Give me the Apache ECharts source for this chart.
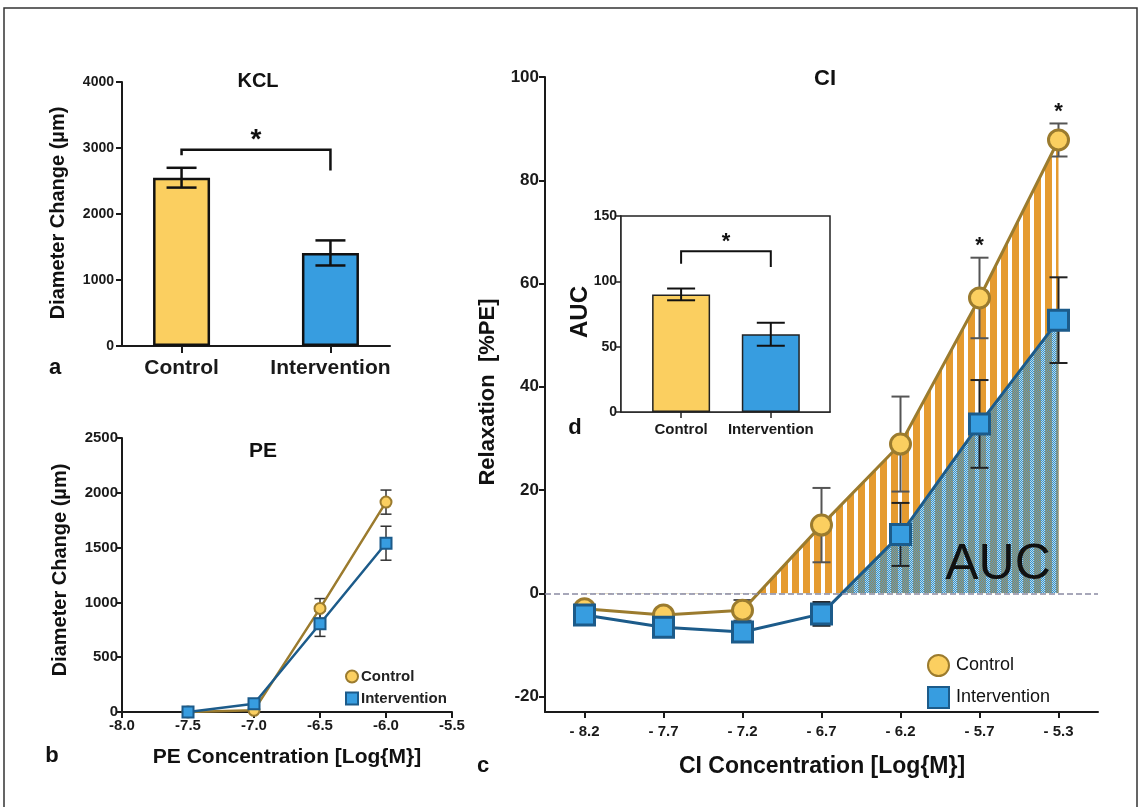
<!DOCTYPE html>
<html>
<head>
<meta charset="utf-8">
<script src="https://cdn.jsdelivr.net/npm/echarts@6/dist/echarts.min.js"></script>
<style>
html, body { margin: 0; padding: 0; background: #fff; }
#chart { width: 1143px; height: 807px; }
</style>
</head>
<body>
<div id="chart"></div>
<script>
// a: KCL
const kclGroups = ['Control', 'Intervention'];
const kclMean = [2550, 1410];
const kclErr = [150, 190];
const kclBracket = [2975, 2890, 2660]; // bar top, left foot, right foot

// b: PE
const peX = [-7.5, -7.0, -6.5, -6.0];
const peControl = [0, 15, 945, 1915];
const peControlErr = [0, 0, 90, 110];
const peInterv = [0, 75, 805, 1540];
const peIntervErr = [0, 0, 115, 155];

// c: CI
const ciCats = ['- 8.2', '- 7.7', '- 7.2', '- 6.7', '- 6.2', '- 5.7', '- 5.3'];
const ciControl = [-3.0, -4.2, -3.3, 13.2, 28.9, 57.2, 87.8];
const ciControlErr = [0, 0, 2, 7.2, 9.2, 7.8, 3.2];
const ciInterv = [-4.2, -6.6, -7.5, -4.0, 11.4, 32.8, 52.9];
const ciIntervErr = [0, 0, 0, 2.3, 6.1, 8.5, 8.3];
const ciStars = [5, 6];
const ciTicks = [-20, 0, 20, 40, 60, 80, 100];

// d: AUC inset
const aucMean = [90, 59.5];
const aucErr = [4.5, 8.8];
const aucBracket = [123, 113.5, 111];

const FONT = '"Liberation Sans", Arial, sans-serif';
const INK = '#1a1a1a';
const YELLOW = '#fbcf60';
const BLUE = '#379de0';
const GOLD = '#9b7b2e';
const NAVY = '#1c5b8a';

function makeStripes() {
  const c = document.createElement('canvas');
  c.width = 11; c.height = 4;
  const g = c.getContext('2d');
  g.fillStyle = '#ffffff'; g.fillRect(0, 0, 11, 4);
  g.fillStyle = '#e59b30'; g.fillRect(0, 0, 7, 4);
  return c;
}
function makeChecker() {
  const c = document.createElement('canvas');
  c.width = 11; c.height = 4;
  const g = c.getContext('2d');
  for (let x = 0; x < 11; x++) {
    for (let y = 0; y < 4; y++) {
      const odd = (x + y) % 2;
      if (x < 7) g.fillStyle = odd ? '#958755' : '#5a9ec6';
      else g.fillStyle = odd ? '#3f90c2' : '#b2dcf2';
      g.fillRect(x, y, 1, 1);
    }
  }
  return c;
}

function errRender(capW, color, width) {
  return function (params, api) {
    const e = api.value(2);
    if (!e) return null;
    const x = api.value(0), y = api.value(1);
    const t = api.coord([x, y + e]), b = api.coord([x, y - e]);
    const st = { stroke: color, lineWidth: width };
    return {
      type: 'group', children: [
        { type: 'line', shape: { x1: t[0], y1: t[1], x2: b[0], y2: b[1] }, style: st },
        { type: 'line', shape: { x1: t[0] - capW / 2, y1: t[1], x2: t[0] + capW / 2, y2: t[1] }, style: st },
        { type: 'line', shape: { x1: b[0] - capW / 2, y1: b[1], x2: b[0] + capW / 2, y2: b[1] }, style: st }
      ]
    };
  };
}

function bracketRender(lw, starSize, starGap) {
  return function (params, api) {
    const x1 = api.value(0), x2 = api.value(1), top = api.value(2);
    const a = api.coord([x1, api.value(3)]);
    const b = api.coord([x1, top]);
    const c = api.coord([x2, top]);
    const d = api.coord([x2, api.value(4)]);
    return {
      type: 'group', children: [
        { type: 'polyline', shape: { points: [a, b, c, d] }, style: { stroke: '#111', lineWidth: lw, fill: null } },
        { type: 'text', x: (b[0] + c[0]) / 2, y: b[1] - starGap,
          style: { text: '*', font: 'bold ' + starSize + 'px ' + FONT, fill: '#111', align: 'center', verticalAlign: 'middle' } }
      ]
    };
  };
}

function starRender(starSize, starGap) {
  return function (params, api) {
    const p = api.coord([api.value(0), api.value(1)]);
    return { type: 'text', x: p[0], y: p[1] - starGap,
      style: { text: '*', font: 'bold ' + starSize + 'px ' + FONT, fill: '#111', align: 'center', verticalAlign: 'middle' } };
  };
}

function axisBase(extra) {
  const base = {
    axisLine: { show: true, onZero: false, lineStyle: { color: INK, width: 2 } },
    axisTick: { show: true, length: 6, lineStyle: { color: INK, width: 2 } },
    axisLabel: { color: INK, fontWeight: 'bold', fontSize: 14, fontFamily: FONT, formatter: v => String(v) },
    splitLine: { show: false }
  };
  Object.keys(extra).forEach(k => {
    if (base[k] && typeof extra[k] === 'object' && !Array.isArray(extra[k])) base[k] = Object.assign({}, base[k], extra[k]);
    else base[k] = extra[k];
  });
  return base;
}

const gridC = { left: 545, top: 77, width: 553, height: 635 };
const cMin = -23, cMax = 100;

const chart = echarts.init(document.getElementById('chart'));

function txt(text, x, y, size, opts) {
  opts = opts || {};
  return {
    type: 'text', x: x, y: y, rotation: opts.rot || 0, z: 20,
    style: { text: text, font: (opts.weight || 'bold') + ' ' + size + 'px ' + FONT, fill: opts.color || '#111',
      align: 'center', verticalAlign: 'middle' }
  };
}

chart.setOption({
  animation: false,
  textStyle: { fontFamily: FONT },
  grid: [
    { left: 122, top: 82, width: 268, height: 264 },
    { left: 122, top: 438, width: 330, height: 274 },
    gridC,
    { left: gridC.left, top: gridC.top, width: gridC.width, height: gridC.height * cMax / (cMax - cMin) },
    { left: 621, top: 216, width: 209, height: 196, show: true, backgroundColor: '#fff', borderColor: '#222', borderWidth: 1.5, z: 5 }
  ],
  xAxis: [
    axisBase({ gridIndex: 0, type: 'value', min: 0.6, max: 2.4,
      axisTick: { length: 7, customValues: [1, 2] },
      axisLabel: { customValues: [1, 2], formatter: v => kclGroups[Math.round(v) - 1], fontSize: 21, margin: 12 } }),
    axisBase({ gridIndex: 1, type: 'value', min: -8, max: -5.5, interval: 0.5,
      axisLabel: { formatter: v => v.toFixed(1), fontSize: 15, margin: 6 } }),
    axisBase({ gridIndex: 2, type: 'category', data: ciCats, boundaryGap: true,
      axisTick: { alignWithLabel: true },
      axisLabel: { formatter: null, fontSize: 15, margin: 12 } }),
    { gridIndex: 3, type: 'category', data: ciCats, boundaryGap: true, show: false },
    axisBase({ gridIndex: 4, type: 'value', min: 0.33, max: 2.66,
      axisLine: { lineStyle: { color: '#222', width: 1.5 } },
      axisTick: { customValues: [1, 2], lineStyle: { color: '#222', width: 1.5 } },
      axisLabel: { customValues: [1, 2], formatter: v => kclGroups[Math.round(v) - 1], fontSize: 15, margin: 10 } })
  ],
  yAxis: [
    axisBase({ gridIndex: 0, type: 'value', min: 0, max: 4000, interval: 1000 }),
    axisBase({ gridIndex: 1, type: 'value', min: 0, max: 2500, interval: 500,
      axisLabel: { fontSize: 15, margin: 4 } }),
    axisBase({ gridIndex: 2, type: 'value', min: cMin, max: cMax,
      axisTick: { customValues: ciTicks },
      axisLabel: { customValues: ciTicks, fontSize: 17, margin: 6 } }),
    { gridIndex: 3, type: 'value', min: 0, max: cMax, show: false },
    axisBase({ gridIndex: 4, type: 'value', min: 0, max: 150, interval: 50,
      axisLine: { lineStyle: { color: '#222', width: 1.5 } },
      axisTick: { length: 5, lineStyle: { color: '#222', width: 1.5 } },
      axisLabel: { fontSize: 14, margin: 4 } })
  ],
  legend: [
    { left: 340, top: 664, orient: 'vertical', itemGap: 7, itemWidth: 12, itemHeight: 12, selectedMode: false,
      data: [{ name: 'Control', icon: 'circle' }, { name: 'Intervention', icon: 'rect' }],
      textStyle: { fontSize: 15, fontWeight: 'bold', color: '#222', padding: [0, 0, 0, -2] } },
    { left: 922, top: 649, orient: 'vertical', itemGap: 9, itemWidth: 21, itemHeight: 21, selectedMode: false,
      data: [{ name: 'Control', icon: 'circle' }, { name: 'Intervention', icon: 'rect' }],
      textStyle: { fontSize: 18, color: '#111', padding: [0, 0, 0, 2] } }
  ],
  series: [
    // a
    { type: 'bar', xAxisIndex: 0, yAxisIndex: 0, barWidth: 57, z: 2,
      data: kclMean.map((v, i) => ({ value: [i + 1, v], itemStyle: { color: i ? BLUE : YELLOW, borderColor: '#111', borderWidth: 2.5 } })) },
    { type: 'custom', xAxisIndex: 0, yAxisIndex: 0, z: 3, renderItem: errRender(30, '#111', 2.5),
      data: kclMean.map((v, i) => [i + 1, v, kclErr[i]]) },
    { type: 'custom', xAxisIndex: 0, yAxisIndex: 0, z: 3, renderItem: bracketRender(2.5, 28, 9),
      encode: { x: [0, 1], y: [2, 3, 4] }, data: [[1, 2].concat(kclBracket)] },
    // b
    { type: 'custom', xAxisIndex: 1, yAxisIndex: 1, z: 2, renderItem: errRender(11, '#333', 1.5),
      data: peX.map((x, i) => [x, peControl[i], peControlErr[i]]) },
    { type: 'custom', xAxisIndex: 1, yAxisIndex: 1, z: 2, renderItem: errRender(11, '#333', 1.5),
      data: peX.map((x, i) => [x, peInterv[i], peIntervErr[i]]) },
    { name: 'Control', type: 'line', xAxisIndex: 1, yAxisIndex: 1, z: 3, symbol: 'circle', symbolSize: 11,
      itemStyle: { color: YELLOW, borderColor: GOLD, borderWidth: 2 }, lineStyle: { color: GOLD, width: 2.5 },
      data: peX.map((x, i) => [x, peControl[i]]) },
    { name: 'Intervention', type: 'line', xAxisIndex: 1, yAxisIndex: 1, z: 4, symbol: 'rect', symbolSize: 11,
      itemStyle: { color: BLUE, borderColor: NAVY, borderWidth: 2 }, lineStyle: { color: NAVY, width: 2.5 },
      data: peX.map((x, i) => [x, peInterv[i]]) },
    // c fills (clipped at 0 by their own grid)
    { type: 'line', xAxisIndex: 3, yAxisIndex: 3, z: 1, symbol: 'none', clip: true, silent: true,
      lineStyle: { width: 0 }, areaStyle: { color: { image: makeStripes(), repeat: 'repeat' }, opacity: 1 },
      data: ciControl },
    { type: 'line', xAxisIndex: 3, yAxisIndex: 3, z: 1, symbol: 'none', clip: true, silent: true,
      lineStyle: { width: 0 }, areaStyle: { color: { image: makeChecker(), repeat: 'repeat' }, opacity: 1 },
      data: ciInterv },
    // c lines
    { type: 'custom', xAxisIndex: 2, yAxisIndex: 2, z: 2, renderItem: errRender(18, '#555', 2),
      data: ciCats.map((c, i) => [i, ciControl[i], ciControlErr[i]]) },
    { type: 'custom', xAxisIndex: 2, yAxisIndex: 2, z: 2, renderItem: errRender(18, '#222', 2),
      data: ciCats.map((c, i) => [i, ciInterv[i], ciIntervErr[i]]) },
    { name: 'Control', type: 'line', xAxisIndex: 2, yAxisIndex: 2, z: 3, symbol: 'circle', symbolSize: 20,
      itemStyle: { color: YELLOW, borderColor: GOLD, borderWidth: 3 }, lineStyle: { color: GOLD, width: 3 },
      data: ciControl,
      markLine: { silent: true, symbol: 'none', label: { show: false },
        lineStyle: { type: 'dashed', color: '#8a8aa2', width: 1.5 }, data: [{ yAxis: 0 }] } },
    { name: 'Intervention', type: 'line', xAxisIndex: 2, yAxisIndex: 2, z: 4, symbol: 'rect', symbolSize: 20,
      itemStyle: { color: BLUE, borderColor: NAVY, borderWidth: 3 }, lineStyle: { color: NAVY, width: 3 },
      data: ciInterv },
    { type: 'custom', xAxisIndex: 2, yAxisIndex: 2, z: 5, renderItem: starRender(22, 12),
      data: ciStars.map(i => [i, ciControl[i] + ciControlErr[i]]) },
    // d
    { type: 'bar', xAxisIndex: 4, yAxisIndex: 4, barWidth: 58, z: 6,
      data: aucMean.map((v, i) => ({ value: [i + 1, v], itemStyle: { color: i ? BLUE : YELLOW, borderColor: '#222', borderWidth: 1.5 } })) },
    { type: 'custom', xAxisIndex: 4, yAxisIndex: 4, z: 7, renderItem: errRender(28, '#111', 2),
      data: aucMean.map((v, i) => [i + 1, v, aucErr[i]]) },
    { type: 'custom', xAxisIndex: 4, yAxisIndex: 4, z: 7, renderItem: bracketRender(2, 22, 9),
      encode: { x: [0, 1], y: [2, 3, 4] }, data: [[1, 2].concat(aucBracket)] }
  ],
  graphic: [
    { type: 'rect', shape: { x: 4, y: 8, width: 1133, height: 812 }, style: { stroke: '#333', lineWidth: 1.5, fill: null }, z: 0 },
    txt('KCL', 258, 81, 20),
    txt('Diameter Change (µm)', 58, 213, 20, { rot: Math.PI / 2 }),
    txt('a', 55, 368, 22),
    txt('PE', 263, 451, 21),
    txt('Diameter Change (µm)', 60, 570, 20, { rot: Math.PI / 2 }),
    txt('PE Concentration [Log{M}]', 287, 757, 21),
    txt('b', 52, 756, 22),
    txt('CI', 825, 79, 22),
    txt('Relaxation  [%PE]', 488, 392, 22, { rot: Math.PI / 2 }),
    txt('CI Concentration [Log{M}]', 822, 767, 23),
    txt('c', 483, 766, 22),
    txt('AUC', 580, 312, 24, { rot: Math.PI / 2 }),
    txt('d', 575, 428, 22),
    txt('AUC', 998, 565, 50, { weight: 'normal' })
  ]
});
</script>
</body>
</html>
